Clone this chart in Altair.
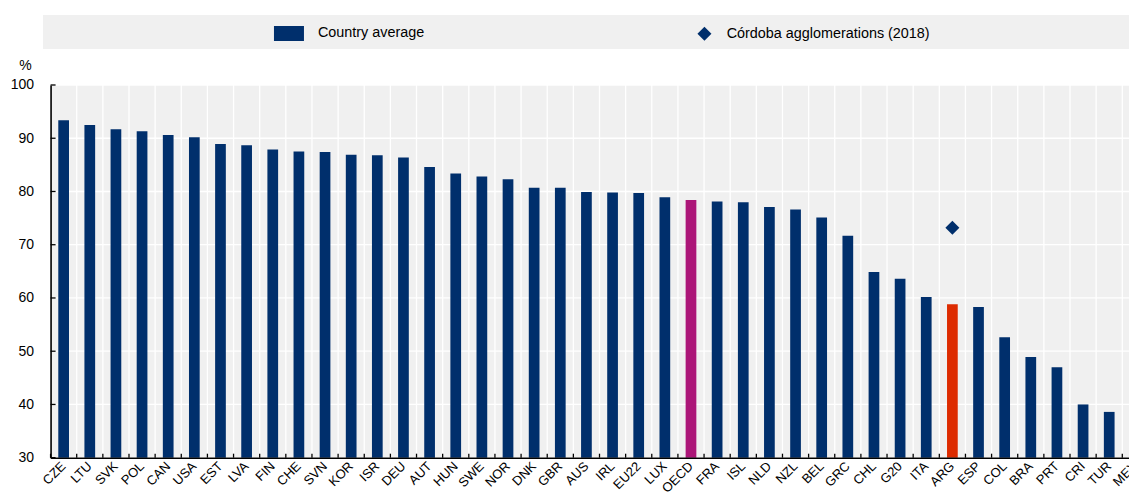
import altair as alt
import pandas as pd

countries = ["CZE", "LTU", "SVK", "POL", "CAN", "USA", "EST", "LVA", "FIN", "CHE",
             "SVN", "KOR", "ISR", "DEU", "AUT", "HUN", "SWE", "NOR", "DNK", "GBR",
             "AUS", "IRL", "EU22", "LUX", "OECD", "FRA", "ISL", "NLD", "NZL", "BEL",
             "GRC", "CHL", "G20", "ITA", "ARG", "ESP", "COL", "BRA", "PRT", "CRI",
             "TUR", "MEX"]
values = [93.4, 92.5, 91.7, 91.3, 90.6, 90.2, 88.9, 88.7, 87.9, 87.5,
          87.4, 86.9, 86.8, 86.4, 84.6, 83.4, 82.8, 82.3, 80.7, 80.7,
          79.9, 79.8, 79.7, 78.9, 78.4, 78.1, 78.0, 77.1, 76.6, 75.1,
          71.7, 64.9, 63.6, 60.2, 58.8, 58.3, 52.6, 48.9, 47.0, 40.0,
          38.6, 36.7]
cordoba_country = ["ARG"]
cordoba_value = [73.2]
y_ticks = [30, 40, 50, 60, 70, 80, 90, 100]

series_names = ["Country average", "OECD", "ARG"]
point_series = "Córdoba agglomerations (2018)"

NAVY = "#002F6C"
MAGENTA = "#AC1678"
RED = "#DD2B00"
FONT = "Liberation Sans, Arial, sans-serif"

groups = [c if c in ("OECD", "ARG") else "Country average" for c in countries]
df = pd.DataFrame({"country": countries, "value": values, "grp": groups})
dp = pd.DataFrame({"country": cordoba_country, "value": cordoba_value,
                   "series": [point_series]})
dyt = pd.DataFrame({"tick": y_ticks})

STEP = 26.14
FULLW = 42 * STEP
LEFT = 42.56
W = 1121 - LEFT
H = 372.7

xscale = alt.Scale(domain=countries, range=[0, FULLW], paddingInner=0.59, paddingOuter=0.295)
yscale = alt.Scale(domain=[30, 100], nice=False, zero=False)
one = pd.DataFrame({"k": [0]})

band = alt.Chart(one).mark_rect(color="#f0f0f0").encode(
    x=alt.value(-7.56), x2=alt.value(FULLW), y=alt.value(-70), y2=alt.value(-36)
)

plotbg = alt.Chart(one).mark_rect(color="#f0f0f0").encode(
    x=alt.value(0), x2=alt.value(FULLW), y=alt.value(0), y2=alt.value(H)
)

hgrid = alt.Chart(dyt).mark_rule(color="#ffffff", strokeWidth=1.3).encode(
    y=alt.Y("tick:Q", scale=yscale),
    x=alt.value(0), x2=alt.value(FULLW),
)

vgrid = alt.Chart(df).mark_rule(color="#ffffff", strokeWidth=1.3, xOffset=-STEP / 2).encode(
    x=alt.X("country:N", sort=None, scale=xscale),
    y=alt.value(0), y2=alt.value(H),
)

bars = alt.Chart(df).mark_bar().encode(
    x=alt.X("country:N", sort=None, scale=xscale,
            axis=alt.Axis(title=None, labelAngle=-45, ticks=False, tickSize=0,
                          grid=False, zindex=1,
                          domainColor="black", domainWidth=1.6, labelPadding=6,
                          labelFontSize=13, labelColor="black", labelFont=FONT)),
    y=alt.Y("value:Q", scale=yscale,
            axis=alt.Axis(title="%", titleAngle=0, titleX=-25.6, titleY=-19.5,
                          titleAlign="center", titleBaseline="middle", titleFontSize=14,
                          titleFontWeight="normal", titleFont=FONT, titleColor="black",
                          values=y_ticks, ticks=False, tickSize=0, labelPadding=17,
                          labelFontSize=14, labelColor="black", labelFont=FONT,
                          grid=False, zindex=1,
                          domainColor="black", domainWidth=1.6)),
    y2=alt.datum(30),
    color=alt.Color("grp:N",
                    scale=alt.Scale(domain=series_names, range=[NAVY, MAGENTA, RED]),
                    legend=alt.Legend(values=["Country average"], orient="none",
                                      legendX=223.4, legendY=-66.5, title=None,
                                      symbolType="M-1,-0.5H1V0.5H-1Z", symbolSize=900,
                                      symbolStrokeWidth=0, labelOffset=14, padding=0,
                                      labelFontSize=14.4, labelFont=FONT, labelColor="black",
                                      labelLimit=400)),
)

xticks = alt.Chart(df).mark_rule(color="black", strokeWidth=1.3, xOffset=-STEP / 2).encode(
    x=alt.X("country:N", sort=None, scale=xscale),
    y=alt.value(H - 4), y2=alt.value(H),
)

yticks = alt.Chart(dyt).mark_rule(color="black", strokeWidth=1.3).encode(
    y=alt.Y("tick:Q", scale=yscale),
    x=alt.value(0), x2=alt.value(5),
)

points = alt.Chart(dp).mark_point(filled=True, size=196, color=NAVY, opacity=1, strokeWidth=0).encode(
    x=alt.X("country:N", sort=None, scale=xscale),
    y=alt.Y("value:Q", scale=yscale),
    shape=alt.Shape("series:N", scale=alt.Scale(domain=[point_series], range=["diamond"]),
                    legend=alt.Legend(orient="none", legendX=646.7, legendY=-58.5, title=None,
                                      symbolSize=196, symbolFillColor=NAVY, symbolStrokeWidth=0,
                                      labelOffset=15, padding=0, labelFontSize=14.4,
                                      labelFont=FONT, labelColor="black", labelLimit=400)),
)

chart = alt.layer(band, plotbg, hgrid, vgrid, bars, xticks, yticks, points).properties(
    width=W, height=H,
    autosize=alt.AutoSizeParams(type="none"),
    padding={"left": LEFT, "top": 77, "right": 0, "bottom": 40},
    background="white",
).configure_view(strokeWidth=0).configure(font=FONT)

chart.save("out.html", embed_options={"renderer": "svg", "actions": False})
